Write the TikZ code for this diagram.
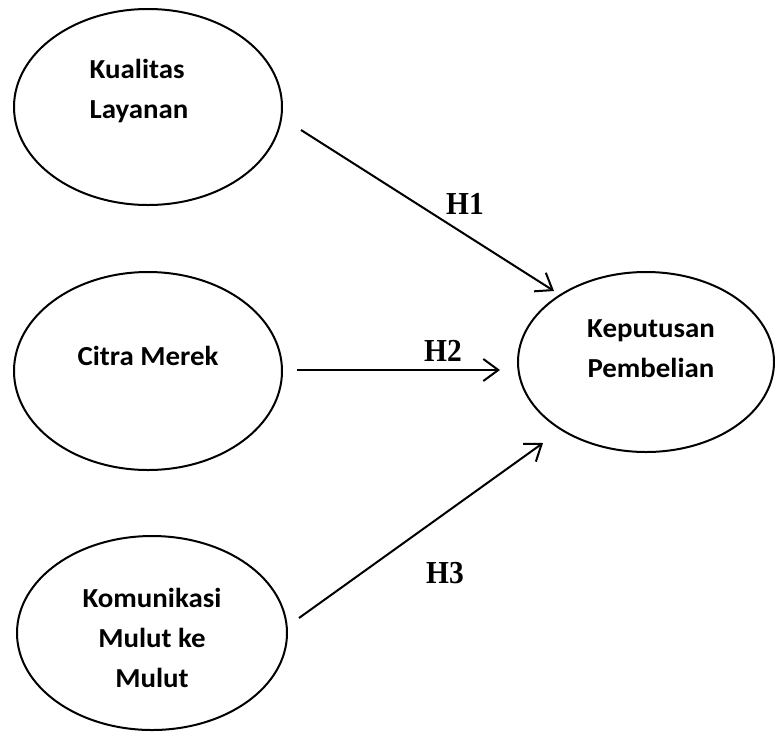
\documentclass[tikz,border=0pt]{standalone}
\usepackage{fontspec}
\usetikzlibrary{shapes.geometric,arrows.meta,positioning}
\newfontfamily\varfont[FakeStretch=1.05]{Carlito}
\newfontfamily\hypfont[FakeStretch=0.92]{Liberation Serif}

\tikzset{
    var/.style={draw, ellipse, line width=2pt, inner sep=0pt},
    varlbl/.style={font=\varfont\bfseries\fontsize{27.5}{40}\selectfont, align=center, inner sep=0pt},
    hyp/.style={font=\hypfont\bfseries\fontsize{32}{32}\selectfont, anchor=base, inner sep=0pt},
    link/.style={line width=2pt, -{Straight Barb[length=15pt,width=22pt]}}
}

\begin{document}
\begin{tikzpicture}[x=1pt,y=-1pt]
\useasboundingbox (0,0) rectangle (775,731);

        % Zmienne
        \node[var, minimum width=268pt, minimum height=196pt] (kl) at (148,107) {};
        \node[var, minimum width=268pt, minimum height=198pt] (cm) at (148,371) {};
        \node[var, minimum width=270pt, minimum height=194pt] (kmm) at (152,633) {};
        \node[var, minimum width=256pt, minimum height=180pt] (kp) at (646,362) {};

        \node[varlbl, align=left] (kl-t) at (139,91) {Kualitas\\Layanan};
        \node[varlbl] (cm-t) at (148,356) {Citra Merek};
        \node[varlbl] (kmm-t) at (152,638) {Komunikasi\\Mulut ke\\Mulut};
        \node[varlbl] (kp-t) at (651,349) {Keputusan\\Pembelian};

        \coordinate (h1s) at (301,130);
        \coordinate (h1e) at (554,291);
        \coordinate (h2s) at (297,370);
        \coordinate (h2e) at (500,370);
        \coordinate (h3s) at (299,618);
        \coordinate (h3e) at (543,443);

        \draw[link] (h1s) -- (h1e);
        \draw[link] (h2s) -- (h2e);
        \draw[link] (h3s) -- (h3e);

        % Hipotezy
        \node[hyp] (h1) at (465,214) {H1};
        \node[hyp] (h2) at (443,361) {H2};
        \node[hyp] (h3) at (445,583) {H3};

\end{tikzpicture}
\end{document}
